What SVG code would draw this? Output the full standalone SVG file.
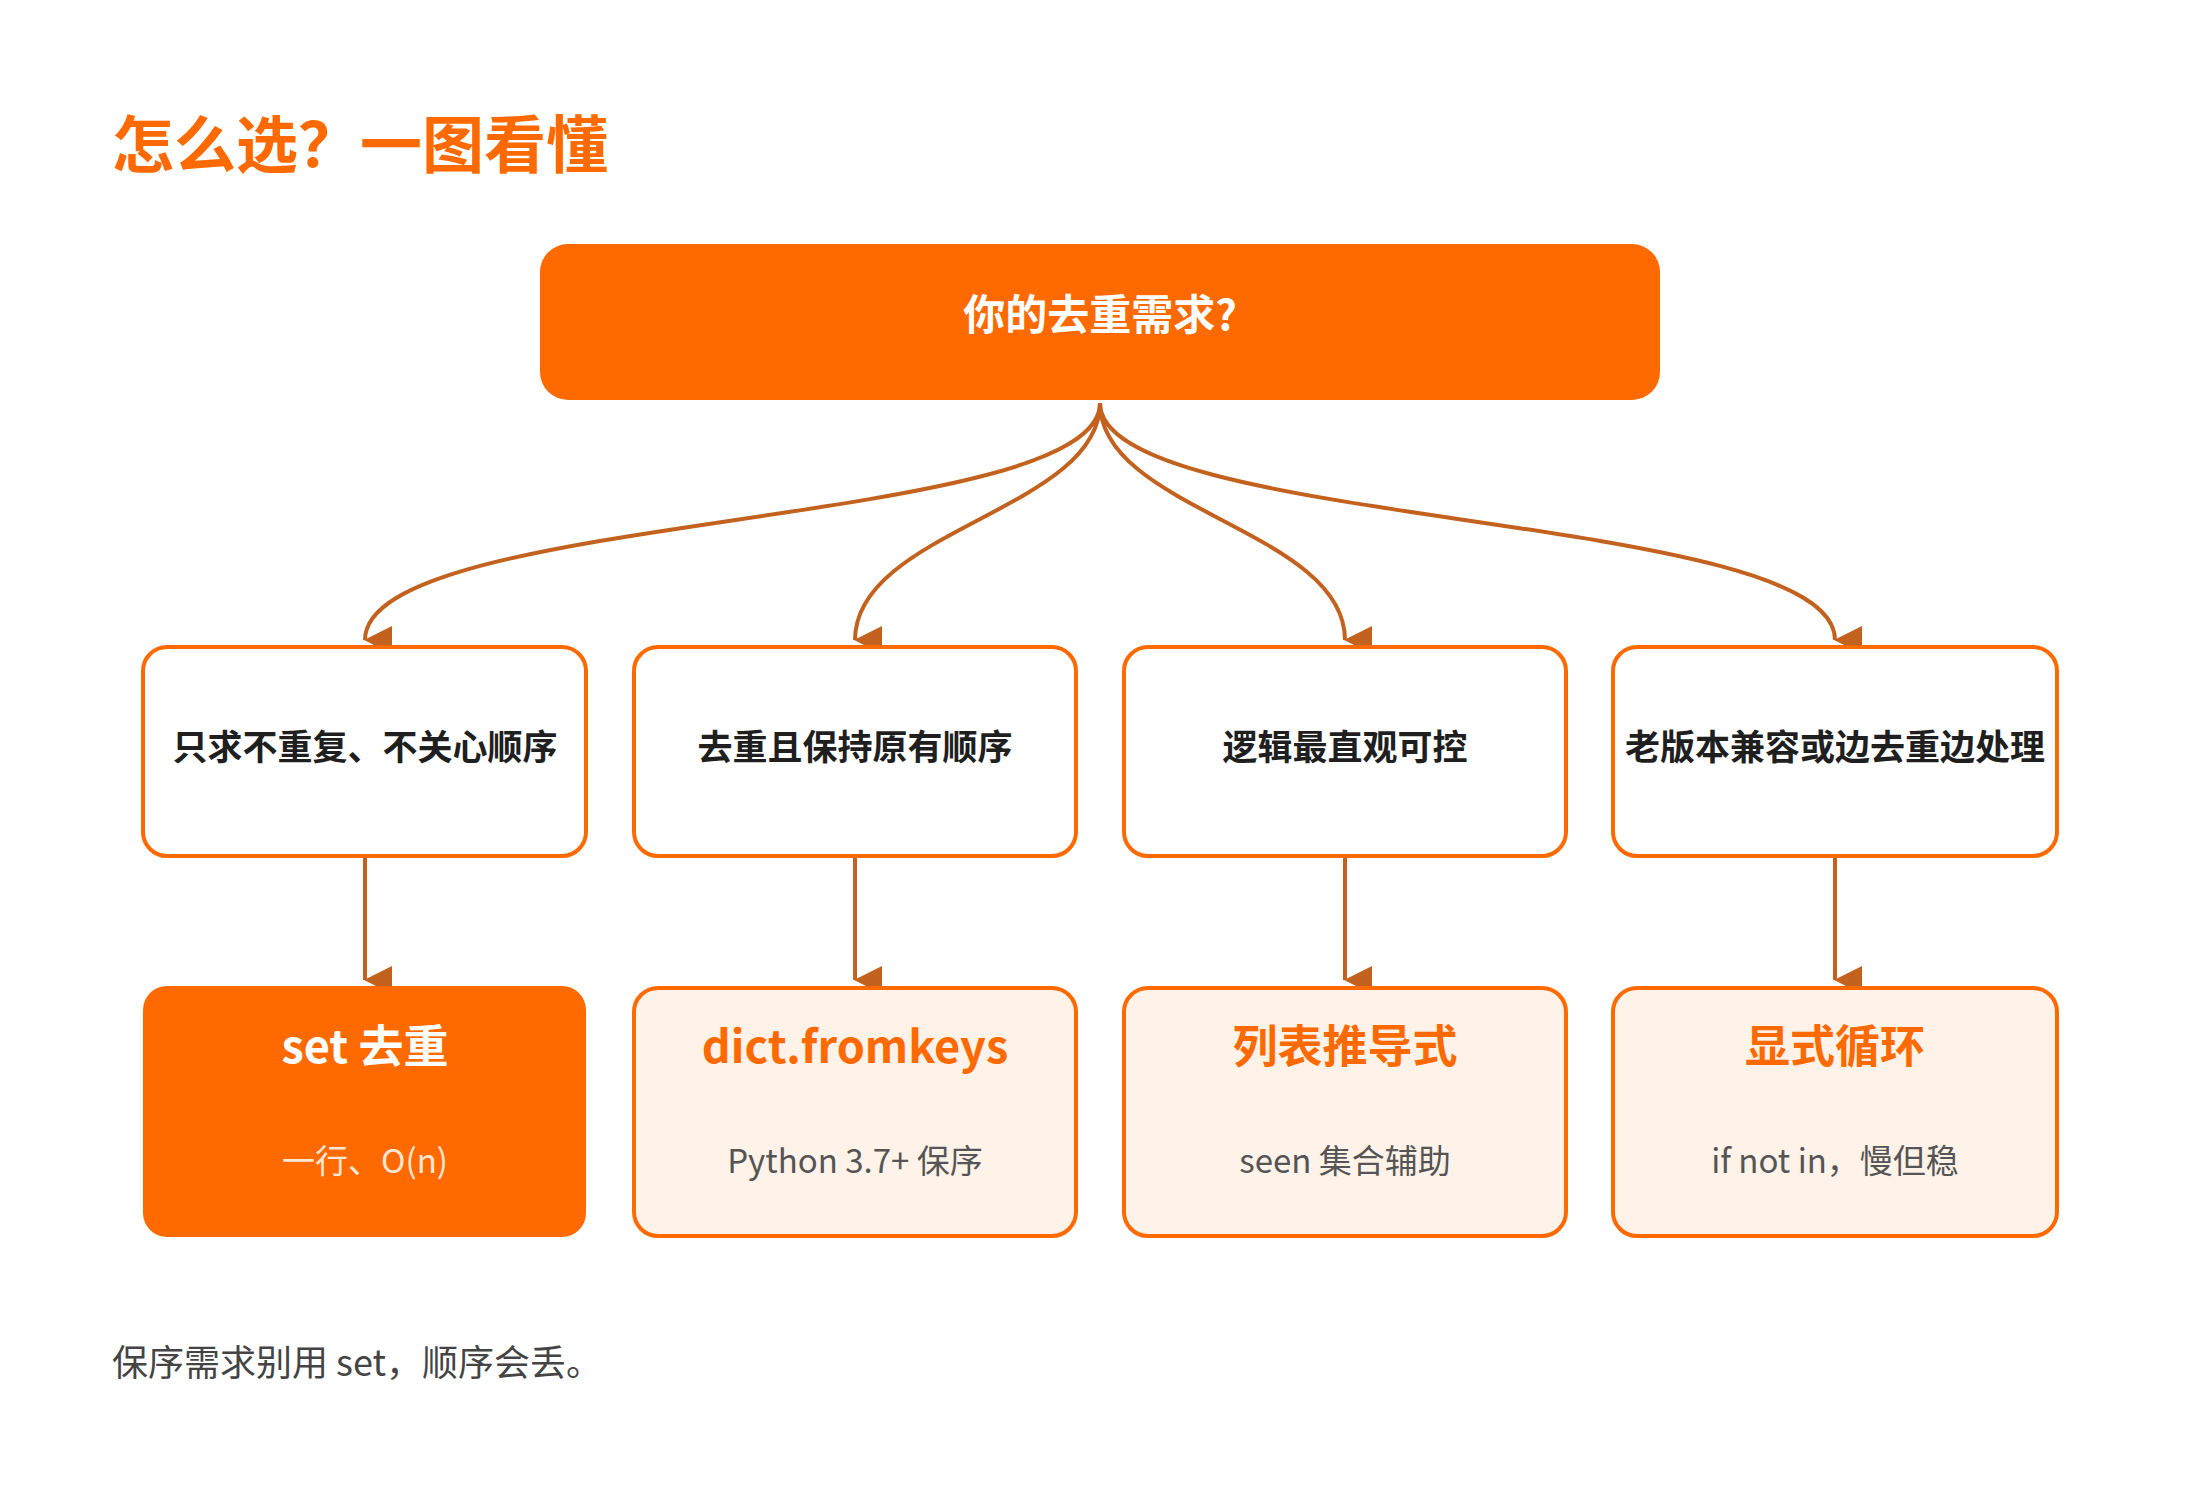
<svg xmlns="http://www.w3.org/2000/svg" width="2200" height="1488" viewBox="0 0 2200 1488">
<defs>
<marker id="ah" markerWidth="8" markerHeight="8" refX="4" refY="7" orient="auto-start-reverse" markerUnits="userSpaceOnUse" viewBox="0 0 8 8" style="overflow:visible">
<path d="M-14,-20 L14,-20 L0,8 Z" fill="#C2621E" transform="translate(4,0)"/>
</marker>
<style>
text{font-family:"Noto Sans CJK SC","Noto Sans",sans-serif}
.q{fill:#fff;stroke:#FF6A00;stroke-width:4}
.r{fill:#FFF2E8;stroke:#FF6A00;stroke-width:4}
.qt{font-size:35px;font-weight:700;fill:#1f1f1f;text-anchor:middle}
.rt{font-size:45px;font-weight:700;fill:#FF6A00;text-anchor:middle}
.rs{font-size:33px;fill:#555;text-anchor:middle}
.c{fill:none;stroke:#C2621E;stroke-width:4}
</style>
</defs>
<rect width="2200" height="1488" fill="#fff"/>
<text x="112" y="168" font-size="62" font-weight="700" fill="#FF6A00">怎么选？一图看懂</text>
<g id="root"><rect x="540" y="244" width="1120" height="156" rx="28" fill="#FF6A00"/>
<text x="1100" y="330" font-size="42" font-weight="700" fill="#fff" text-anchor="middle">你的去重需求?</text></g>
<g id="connectors">
<path class="c" marker-end="url(#ah)" d="M1100,403 C1100,530 365,510 365,640"/>
<path class="c" marker-end="url(#ah)" d="M1100,403 C1100,510 855,530 855,640"/>
<path class="c" marker-end="url(#ah)" d="M1100,403 C1100,510 1345,530 1345,640"/>
<path class="c" marker-end="url(#ah)" d="M1100,403 C1100,530 1835,510 1835,640"/>
<path class="c" marker-end="url(#ah)" d="M365,858 L365,980"/>
<path class="c" marker-end="url(#ah)" d="M855,858 L855,980"/>
<path class="c" marker-end="url(#ah)" d="M1345,858 L1345,980"/>
<path class="c" marker-end="url(#ah)" d="M1835,858 L1835,980"/>
</g>
<g id="q1"><rect class="q" x="143" y="647" width="443" height="209" rx="24"/><text class="qt" x="365" y="760">只求不重复、不关心顺序</text></g>
<g id="q2"><rect class="q" x="634" y="647" width="442" height="209" rx="24"/><text class="qt" x="855" y="760">去重且保持原有顺序</text></g>
<g id="q3"><rect class="q" x="1124" y="647" width="442" height="209" rx="24"/><text class="qt" x="1345" y="760">逻辑最直观可控</text></g>
<g id="q4"><rect class="q" x="1613" y="647" width="444" height="209" rx="24"/><text class="qt" x="1835" y="760">老版本兼容或边去重边处理</text></g>
<g id="r1"><rect x="143" y="986" width="443" height="251" rx="24" fill="#FF6A00"/><text class="rt" x="365" y="1063" fill="#fff" style="fill:#fff">set 去重</text><text class="rs" x="365" y="1173" style="fill:#FFE6D5">一行、O(n)</text></g>
<g id="r2"><rect class="r" x="634" y="988" width="442" height="248" rx="24"/><text class="rt" x="855" y="1063">dict.fromkeys</text><text class="rs" x="855" y="1173">Python 3.7+ 保序</text></g>
<g id="r3"><rect class="r" x="1124" y="988" width="442" height="248" rx="24"/><text class="rt" x="1345" y="1063">列表推导式</text><text class="rs" x="1345" y="1173">seen 集合辅助</text></g>
<g id="r4"><rect class="r" x="1613" y="988" width="444" height="248" rx="24"/><text class="rt" x="1835" y="1063">显式循环</text><text class="rs" x="1835" y="1173">if not in，慢但稳</text></g>
<text x="112" y="1376" font-size="36" fill="#444">保序需求别用 set，顺序会丢。</text>
</svg>
